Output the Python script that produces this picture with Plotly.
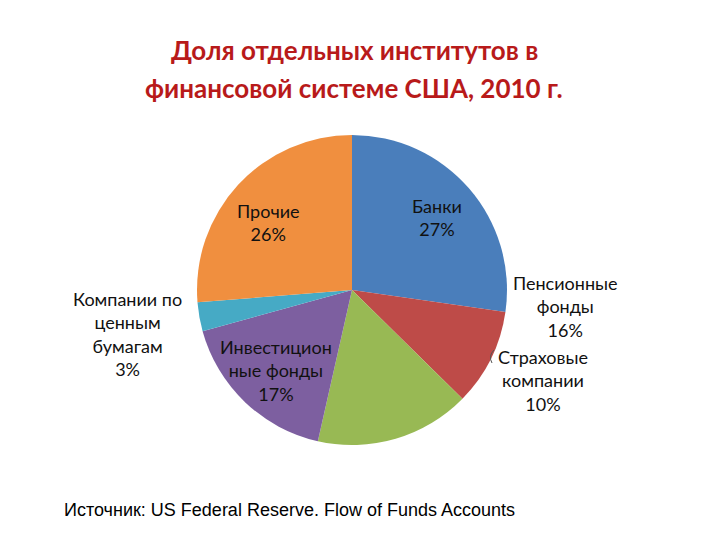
import plotly.graph_objects as go

categories = ["Банки", "Страховые компании", "Пенсионные фонды",
              "Инвестиционные фонды", "Компании по ценным бумагам", "Прочие"]
values = [27, 10, 16, 17, 3, 26]
label_texts = ["Банки<br>27%", "Страховые<br>компании<br>10%", "Пенсионные<br>фонды<br>16%",
               "Инвестицион<br>ные фонды<br>17%", "Компании по<br>ценным<br>бумагам<br>3%", "Прочие<br>26%"]
colors = ["#4A7EBB", "#BE4B48", "#98B954", "#7D5FA0", "#46AAC5", "#F08F3F"]

W, H = 720, 540
OFF = 8  # page offset compensation
def px(x):
    return (x - OFF) / W
def py(y):
    return 1 - (y - OFF) / H

# label anchor positions (pixels) for each category
label_px = [(437, 218), (543, 380), (565, 306), (276, 370), (127, 334), (268, 222)]

fig = go.Figure()
fig.add_trace(go.Pie(
    labels=categories, values=values, sort=False, direction="clockwise", rotation=0,
    marker=dict(colors=colors, line=dict(width=0)),
    textinfo="none", hoverinfo="label+percent", showlegend=False,
    domain=dict(x=[px(197), px(507)], y=[py(445), py(135)]),
))

for txt, (x, y) in zip(label_texts, label_px):
    fig.add_annotation(x=px(x), y=py(y), xref="paper", yref="paper", text=txt,
                       showarrow=False, align="center", xanchor="center", yanchor="middle",
                       font=dict(family="Lato", size=18, color="#111111"))

# small leader line for Страховые компании
fig.add_shape(type="path", xref="paper", yref="paper",
              path=f"M {px(494)} {py(350)} Q {px(488)} {py(356)} {px(492)} {py(363)}",
              line=dict(color="#555555", width=1))

for txt, y in [("Доля отдельных институтов в", 50), ("финансовой системе США, 2010 г.", 88)]:
    fig.add_annotation(x=px(354), y=py(y), xref="paper", yref="paper",
                       text=f"<b>{txt}</b>",
                       showarrow=False, align="center", xanchor="center", yanchor="middle",
                       font=dict(family="Lato", size=26, color="#B81A1A"))

fig.add_annotation(x=px(62), y=py(510), xref="paper", yref="paper",
                   text="Источник: US Federal Reserve. Flow of Funds Accounts",
                   showarrow=False, xanchor="left", yanchor="middle",
                   font=dict(family="Liberation Sans", size=18, color="#000000"))

fig.update_layout(width=W, height=H, margin=dict(l=0, r=0, t=0, b=0),
                  paper_bgcolor="white", plot_bgcolor="white")
fig.write_html("out.html")
